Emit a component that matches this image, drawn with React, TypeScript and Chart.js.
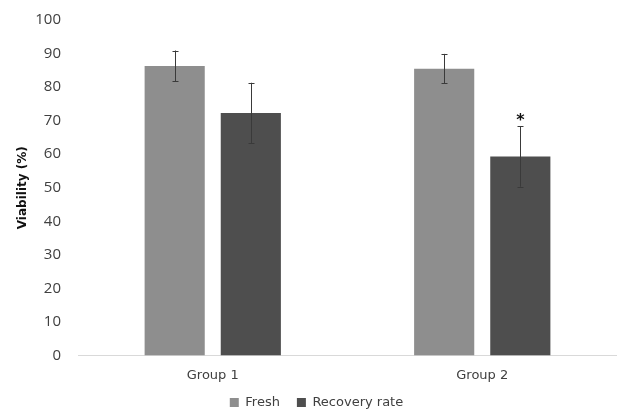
import React, { useEffect, useRef } from "react";
import { Chart, registerables } from "chart.js";

Chart.register(...registerables);

const categories = ["Group 1", "Group 2"];
const seriesNames = ["Fresh", "Recovery rate"];
const freshValues = [86.3, 85.5];
const freshErrors = [4.6, 4.4];
const recoveryValues = [72.3, 59.3];
const recoveryErrors = [9.0, 9.0];
const recoveryMarks = ["", "*"];
const yTicks = [0, 10, 20, 30, 40, 50, 60, 70, 80, 90, 100];

const FONT = "'DejaVu Sans', 'Noto Sans', sans-serif";
const TICK_FONT = "'Open Sans', 'Noto Sans', sans-serif";

const errorBarPlugin = {
  id: "errorBars",
  afterDatasetsDraw(chart: any) {
    const ctx = chart.ctx;
    const y = chart.scales.y;
    const errs = [freshErrors, recoveryErrors];
    ctx.save();
    chart.data.datasets.forEach((ds: any, di: number) => {
      const meta = chart.getDatasetMeta(di);
      meta.data.forEach((bar: any, i: number) => {
        const v = ds.data[i];
        const e = errs[di][i];
        const top = y.getPixelForValue(v + e);
        const bot = y.getPixelForValue(v - e);
        const x = Math.round(bar.x) + 0.5;
        ctx.strokeStyle = "#3a3a3a";
        ctx.lineWidth = 1;
        ctx.beginPath();
        ctx.moveTo(x, top);
        ctx.lineTo(x, bot);
        ctx.moveTo(x - 3, Math.round(top) + 0.5);
        ctx.lineTo(x + 3, Math.round(top) + 0.5);
        ctx.moveTo(x - 3, Math.round(bot) + 0.5);
        ctx.lineTo(x + 3, Math.round(bot) + 0.5);
        ctx.stroke();
        if (di === 1 && recoveryMarks[i]) {
          ctx.fillStyle = "#111";
          ctx.font = `bold 16px ${FONT}`;
          ctx.textAlign = "center";
          ctx.textBaseline = "bottom";
          ctx.fillText(recoveryMarks[i], x, top + 2);
        }
      });
    });
    ctx.restore();
  },
};

export default function App() {
  const ref = useRef<HTMLCanvasElement>(null);
  useEffect(() => {
    if (!ref.current) return;
    const chart = new Chart(ref.current, {
      type: "bar",
      data: {
        labels: categories,
        datasets: [
          {
            label: seriesNames[0],
            data: freshValues,
            backgroundColor: "#8e8e8e",
            categoryPercentage: 0.565,
            barPercentage: 0.79,
          },
          {
            label: seriesNames[1],
            data: recoveryValues,
            backgroundColor: "#4e4e4e",
            categoryPercentage: 0.565,
            barPercentage: 0.79,
          },
        ],
      },
      options: {
        animation: false,
        responsive: false,
        maintainAspectRatio: false,
        layout: { padding: { top: 20, right: 0, left: 16, bottom: -8 } },
        plugins: {
          legend: {
            position: "bottom",
            labels: {
              boxWidth: 9,
              boxHeight: 9,
              padding: 17,
              color: "#404040",
              font: { family: FONT, size: 13 },
            },
          },
          tooltip: { enabled: false },
        },
        scales: {
          x: {
            grid: { display: false, drawTicks: false },
            border: { display: true, color: "#d9d9d9", width: 1 },
            ticks: {
              color: "#404040",
              padding: 12,
              font: { family: FONT, size: 13 },
            },
            afterFit: (s: any) => {
              s.height = 23.5;
              s.paddingLeft = 0;
              s.paddingRight = 0;
              s._computeLabelArea = () => undefined;
            },
          },
          y: {
            min: 0,
            max: 100,
            afterBuildTicks: (s: any) => {
              s.ticks = yTicks.map((v) => ({ value: v }));
            },
            afterFit: (s: any) => {
              s.width = 62;
              s.paddingTop = 0;
              s.paddingBottom = 0;
            },
            grid: { display: false, drawTicks: false },
            border: { display: false },
            ticks: {
              color: "#404040",
              padding: 17,
              font: { family: TICK_FONT, size: 15 },
            },
            title: {
              display: true,
              text: "Viability (%)",
              color: "#111",
              font: { family: FONT, size: 12, weight: "bold" },
              padding: 0,
            },
          },
        },
      },
      plugins: [errorBarPlugin],
    });
    return () => chart.destroy();
  }, []);
  return (
    <div style={{ position: "fixed", left: 0, top: 0, width: 617, height: 411, background: "#fff" }}>
      <canvas ref={ref} width={617} height={411} style={{ width: 617, height: 411 }} />
    </div>
  );
}
